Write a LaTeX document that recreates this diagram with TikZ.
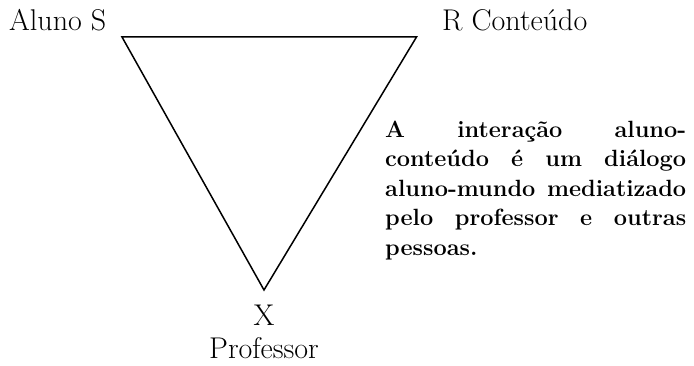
\documentclass[tikz,border=0pt]{standalone}
\usepackage{fontspec}
\begin{document}
\begin{tikzpicture}[x=1pt, y=1pt, every node/.style={font=\fontsize{30}{36}\selectfont, inner sep=0pt}]
  \useasboundingbox (0,0) rectangle (694,-366);
  % vertices of the triangle
  \coordinate (S) at (122,-37);
  \coordinate (R) at (416.5,-37);
  \coordinate (X) at (264,-290);
  \draw[line width=1.5pt] (S) -- (R) -- (X) -- cycle;
  \node[anchor=base west] (aluno) at (9,-31) {Aluno S};
  \node[anchor=base west] (conteudo) at (442,-31) {R Conteúdo};
  \node[anchor=base] (xlabel) at (264,-326) {X};
  \node[anchor=base] (prof) at (264,-359) {Professor};
  \node[anchor=north west, text width=301pt, align=justify,
        font=\bfseries\fontsize{23.5}{29.5}\selectfont] (nota) at (385,-120.5)
    {\hyphenpenalty=10000 A interação aluno-\linebreak conteúdo é um diálogo\linebreak
     aluno-mundo mediatizado\linebreak pelo professor e outras\linebreak pessoas.};
\end{tikzpicture}
\end{document}
